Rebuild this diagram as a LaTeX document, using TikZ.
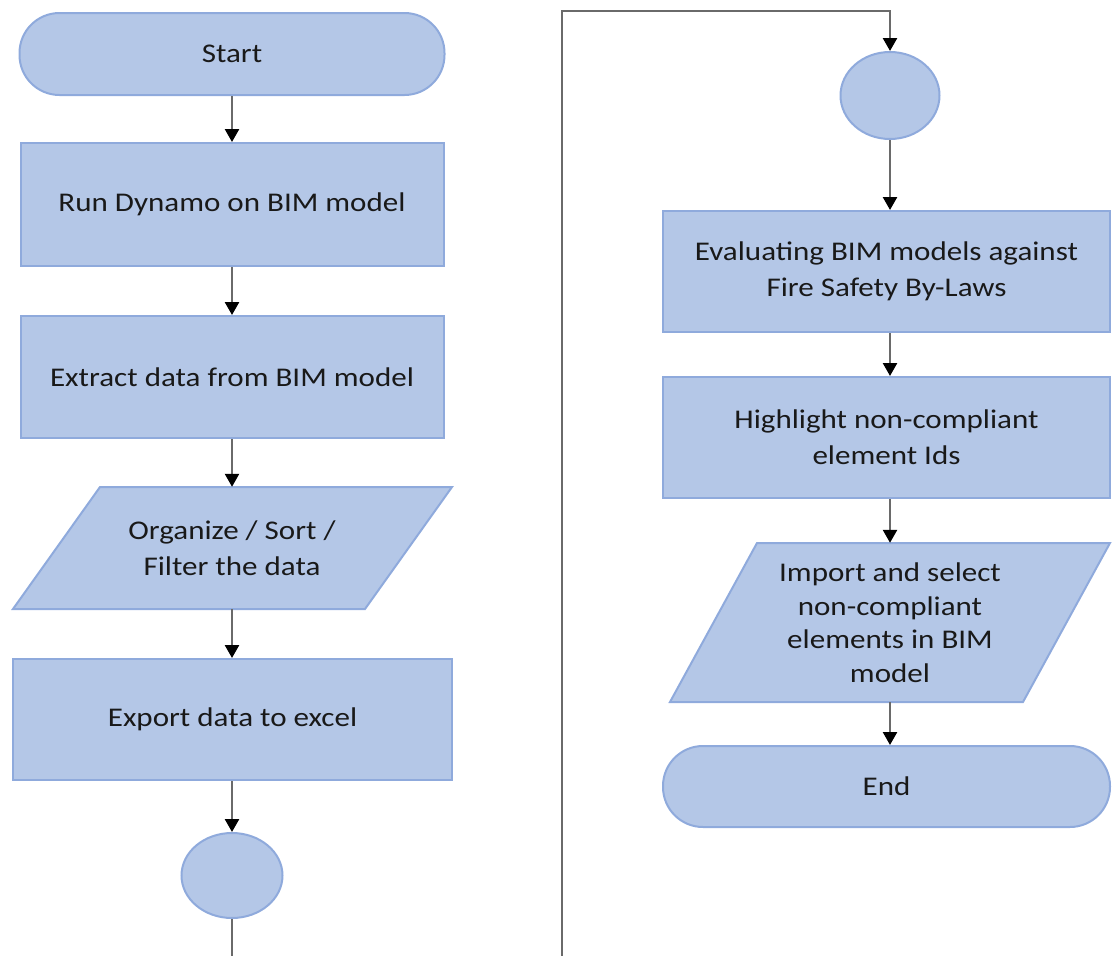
\documentclass[tikz,border=0pt]{standalone}
\usepackage{fontspec}
\setmainfont{Carlito}[FakeStretch=1.15]
\usetikzlibrary{arrows.meta,shapes.geometric}
\definecolor{boxfill}{HTML}{B4C7E7}
\definecolor{boxline}{HTML}{8FAADC}
\definecolor{conn}{HTML}{6A6A6A}
\begin{document}
\begin{tikzpicture}[x=1pt,y=-1pt,
  every node/.style={font=\fontsize{27}{36}\selectfont, text=black!90, align=center, inner sep=0pt},
  term/.style={draw=boxline, fill=boxfill, line width=2pt, rectangle, rounded corners=40pt},
  proc/.style={draw=boxline, fill=boxfill, line width=2pt, rectangle},
  conncirc/.style={draw=boxline, fill=boxfill, line width=2pt, ellipse},
  iobox/.style={draw=boxline, fill=boxfill, line width=2pt, line join=miter},
  flow/.style={draw=conn, line width=2.5pt, -{Triangle[width=14pt,length=13pt,color=black]}},
  plain/.style={draw=conn, line width=2.5pt}
]
\useasboundingbox (0,0) rectangle (1112,956);

% left column
\node[term, minimum width=425pt, minimum height=82pt] (start) at (232,54) {Start};
\node[proc, minimum width=423pt, minimum height=123pt] (run) at (232,204.5) {Run Dynamo on BIM model};
\node[proc, minimum width=423pt, minimum height=122pt] (extract) at (232,377) {Extract data from BIM model};
\draw[iobox] (100,487) -- (452,487) -- (365,609) -- (13,609) -- cycle;
\node[minimum width=200pt, minimum height=122pt] (org) at (232,548) {Organize / Sort /\\Filter the data};
\node[proc, minimum width=439pt, minimum height=121pt] (export) at (232.5,719.5) {Export data to excel};
\node[conncirc, minimum width=101pt, minimum height=85pt] (c1) at (232,875.5) {};
\coordinate (bot1) at (232,956);

\draw[flow] (start.south) -- (run.north);
\draw[flow] (run.south) -- (extract.north);
\draw[flow] (extract.south) -- (org.north);
\draw[flow] (org.south) -- (org.south |- export.north);
\draw[flow] (org.south |- export.south) -- (c1.north);
\draw[plain] (c1.south) -- (bot1);

% right column
\coordinate (b2) at (562,956);
\coordinate (t2) at (562,11);
\coordinate (t3) at (890,11);
\node[conncirc, minimum width=99pt, minimum height=87pt] (c2) at (890,95.5) {};
\node[proc, minimum width=447pt, minimum height=121pt] (eval) at (886.5,271.5) {Evaluating BIM models against\\Fire Safety By-Laws};
\node[proc, minimum width=447pt, minimum height=121pt] (high) at (886.5,437.5) {Highlight non-compliant\\element Ids};
\draw[iobox] (757,543) -- (1110,543) -- (1023,702) -- (670,702) -- cycle;
\node[minimum width=200pt, minimum height=159pt, font=\fontsize{27}{33.5}\selectfont] (imp) at (890,622.5) {Import and select\\non-compliant\\elements in BIM\\model};
\node[term, minimum width=447pt, minimum height=81pt] (endn) at (886.5,786.5) {End};

\draw[flow] (b2) -- (t2) -- (t3) -- (c2.north);
\draw[flow] (c2.south) -- (c2.south |- eval.north);
\draw[flow] (c2.south |- eval.south) -- (c2.south |- high.north);
\draw[flow] (c2.south |- high.south) -- (imp.north);
\draw[flow] (imp.south) -- (imp.south |- endn.north);
\end{tikzpicture}
\end{document}
